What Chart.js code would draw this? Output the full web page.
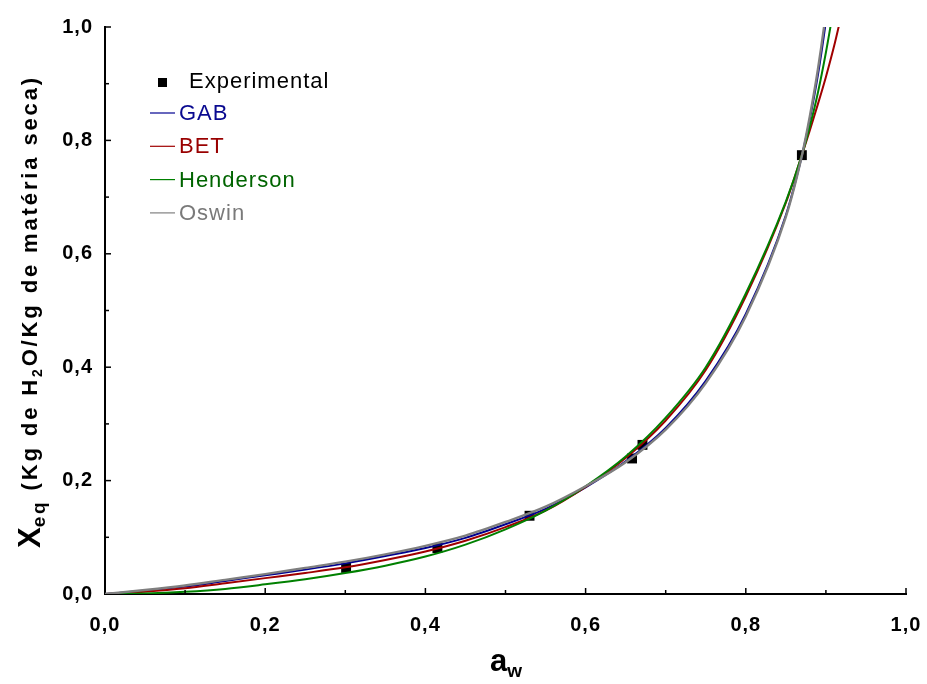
<!DOCTYPE html>
<html>
<head>
<meta charset="utf-8">
<script src="https://cdn.jsdelivr.net/npm/chart.js@4.4.1/dist/chart.umd.min.js"></script>
<style>
  body { margin: 0; background: #fff; }
  canvas { display: block; }
</style>
</head>
<body>
<canvas id="sorcao" width="927" height="684"></canvas>
<script>
// water activity grid used for the fitted curves
const awGrid = [0, 0.05, 0.1, 0.15, 0.2, 0.25, 0.3, 0.35, 0.4, 0.45, 0.5, 0.55, 0.6, 0.65, 0.7, 0.75, 0.8, 0.85, 0.87, 0.88, 0.89, 0.9, 0.91, 0.92];

// experimental points
const expAw = [0.301, 0.415, 0.530, 0.658, 0.671, 0.870];
const expX  = [0.046, 0.081, 0.138, 0.239, 0.263, 0.774];

// model curves
const gabX = [0, 0.006, 0.013, 0.023, 0.033, 0.043, 0.054, 0.067, 0.081, 0.099, 0.123, 0.150, 0.188, 0.234, 0.293, 0.376, 0.494, 0.668, 0.773, 0.838, 0.915, 1.01, 1.12];
const betX = [0, 0.004, 0.010, 0.019, 0.028, 0.037, 0.047, 0.060, 0.075, 0.094, 0.118, 0.147, 0.189, 0.240, 0.306, 0.395, 0.525, 0.690, 0.774, 0.818, 0.864, 0.912, 0.965, 1.025];
const hendX = [0, 0.001, 0.004, 0.009, 0.017, 0.026, 0.037, 0.050, 0.066, 0.087, 0.114, 0.147, 0.190, 0.2425, 0.311, 0.400, 0.530, 0.692, 0.774, 0.825, 0.884, 0.955, 1.036];
const oswinX = [0, 0.007, 0.015, 0.025, 0.035, 0.046, 0.057, 0.070, 0.085, 0.103, 0.127, 0.154, 0.190, 0.2325, 0.290, 0.372, 0.490, 0.665, 0.773, 0.843, 0.925, 1.025, 1.145];

const tickVals = [0, 0.2, 0.4, 0.6, 0.8, 1.0];

const FONT = "'Liberation Sans', Arial, sans-serif";

function pts(xs, ys) {
  return ys.map((y, i) => ({ x: xs[i], y: y }));
}

function curve(label, ys, color, order, width) {
  return {
    label: label,
    data: pts(awGrid, ys),
    showLine: true,
    borderColor: color,
    borderWidth: width,
    pointRadius: 0,
    cubicInterpolationMode: 'monotone',
    order: order
  };
}

const legendItems = [
  { text: 'GAB', line: '#000090', color: '#0a0a90' },
  { text: 'BET', line: '#a00000', color: '#990000' },
  { text: 'Henderson', line: '#008000', color: '#006400' },
  { text: 'Oswin', line: '#808080', color: '#7a7a7a' }
];

// inward ticks, legend, axis titles
const decor = {
  id: 'decor',
  beforeDraw(chart) {
    chart.ctx.letterSpacing = '1px';
  },
  afterDraw(chart) {
    const ctx = chart.ctx;
    const xs = chart.scales.x, ys = chart.scales.y;
    const area = chart.chartArea;
    ctx.save();
    ctx.strokeStyle = '#000';
    ctx.lineWidth = 1.5;
    for (let i = 1; i <= 10; i++) {
      const v = i / 10;
      const len = i % 2 === 0 ? 6 : 4;
      const px = xs.getPixelForValue(v);
      ctx.beginPath();
      ctx.moveTo(px, area.bottom);
      ctx.lineTo(px, area.bottom - len);
      ctx.stroke();
      const py = ys.getPixelForValue(v);
      ctx.beginPath();
      ctx.moveTo(area.left, py);
      ctx.lineTo(area.left + len, py);
      ctx.stroke();
    }

    // legend
    ctx.letterSpacing = '1px';
    ctx.textBaseline = 'middle';
    ctx.textAlign = 'left';
    ctx.font = '22px ' + FONT;
    ctx.fillStyle = '#000';
    ctx.fillRect(158, 78, 9, 9);
    ctx.fillText('Experimental', 189, 82);
    legendItems.forEach((it, i) => {
      const y = 113 + i * 33.3;
      ctx.strokeStyle = it.line;
      ctx.lineWidth = 1.2;
      ctx.beginPath();
      ctx.moveTo(150, y);
      ctx.lineTo(175, y);
      ctx.stroke();
      ctx.fillStyle = it.color;
      ctx.fillText(it.text, 179, y + 1);
    });

    // x title: a_w
    ctx.fillStyle = '#000';
    ctx.letterSpacing = '0px';
    ctx.font = 'bold 31px ' + FONT;
    const aW = ctx.measureText('a').width;
    ctx.font = 'bold 19px ' + FONT;
    const wW = ctx.measureText('w').width;
    let x0 = 506 - (aW + wW) / 2;
    ctx.font = 'bold 31px ' + FONT;
    ctx.fillText('a', x0, 662);
    ctx.font = 'bold 19px ' + FONT;
    ctx.fillText('w', x0 + aW, 672);

    // y title, rotated, stretched from y=548 up to y=75
    ctx.translate(31, 0);
    ctx.rotate(-Math.PI / 2);
    const parts = [
      { t: 'X', f: 'bold 31px ', dy: 0, sp: false },
      { t: 'eq', f: 'bold 19px ', dy: 9, sp: true },
      { t: ' (Kg de H', f: 'bold 22px ', dy: 0, sp: true },
      { t: '2', f: 'bold 14px ', dy: 7, sp: true },
      { t: 'O/Kg de matéria seca)', f: 'bold 22px ', dy: 0, sp: true }
    ];
    let natural = 0, nChars = 0;
    ctx.letterSpacing = '0px';
    parts.forEach(p => {
      ctx.font = p.f + FONT;
      natural += ctx.measureText(p.t).width;
      if (p.sp) nChars += p.t.length;
    });
    const extra = Math.max(0, (548 - 75 - natural) / nChars);
    let pos = -548;
    parts.forEach(p => {
      ctx.font = p.f + FONT;
      ctx.letterSpacing = (p.sp ? extra : 0) + 'px';
      ctx.fillText(p.t, pos, p.dy);
      pos += ctx.measureText(p.t).width;
    });
    ctx.restore();
  }
};

const ctx = document.getElementById('sorcao').getContext('2d');

new Chart(ctx, {
  type: 'scatter',
  data: {
    datasets: [
      {
        label: 'Experimental',
        data: pts(expAw, expX),
        pointStyle: 'rect',
        pointRadius: 7,
        backgroundColor: '#000',
        borderColor: '#000',
        borderWidth: 0,
        order: 5
      },
      curve('GAB', gabX, '#000090', 4, 2),
      curve('BET', betX, '#a00000', 3, 2),
      curve('Henderson', hendX, '#008000', 2, 2),
      curve('Oswin', oswinX, '#7f7f7f', 1, 2.4)
    ]
  },
  options: {
    responsive: false,
    animation: false,
    devicePixelRatio: 1,
    layout: { padding: { left: 0, top: 27, right: 21, bottom: 0 } },
    plugins: {
      legend: { display: false },
      tooltip: { enabled: false }
    },
    scales: {
      x: {
        type: 'linear',
        min: 0,
        max: 1,
        afterFit: s => { s.height = 90; s.paddingLeft = 0; s.paddingRight = 0; },
        afterBuildTicks: s => { s.ticks = tickVals.map(v => ({ value: v })); },
        ticks: {
          color: '#000',
          padding: 19,
          maxRotation: 0,
          font: { family: FONT, size: 20, weight: 'bold' },
          callback: v => v.toFixed(1).replace('.', ',')
        },
        grid: { drawOnChartArea: false, drawTicks: false },
        border: { display: true, color: '#000', width: 2 }
      },
      y: {
        type: 'linear',
        min: 0,
        max: 1,
        afterFit: s => { s.width = 105; s.paddingTop = 0; s.paddingBottom = 0; },
        afterBuildTicks: s => { s.ticks = tickVals.map(v => ({ value: v })); },
        ticks: {
          color: '#000',
          padding: 12,
          font: { family: FONT, size: 20, weight: 'bold' },
          callback: v => v.toFixed(1).replace('.', ',')
        },
        grid: { drawOnChartArea: false, drawTicks: false },
        border: { display: true, color: '#000', width: 2 }
      }
    }
  },
  plugins: [decor]
});
</script>
</body>
</html>
